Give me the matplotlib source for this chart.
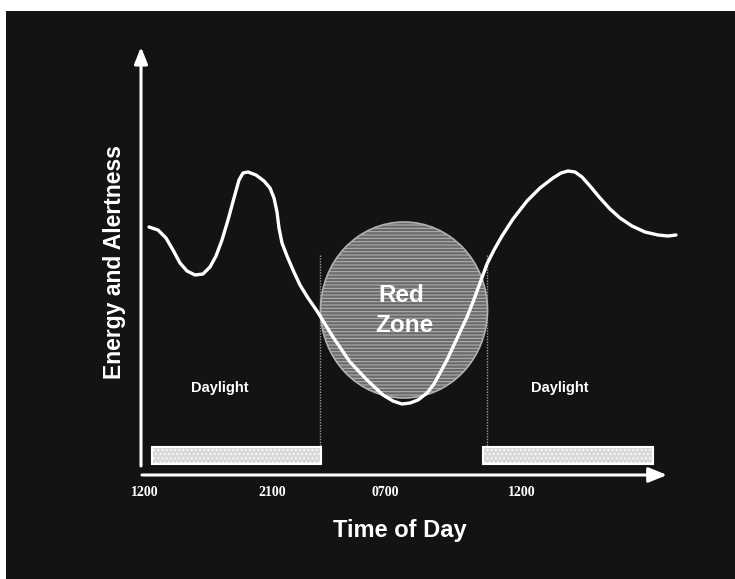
import matplotlib.pyplot as plt
from matplotlib.patches import Ellipse, Rectangle

# all positions are in picture pixels (x to the right, y downwards)
curve_x = [149, 158, 166, 173, 180, 187, 195, 203, 210, 216, 222, 228, 234, 239,
           243, 248, 256, 264, 270, 274, 277, 279, 282, 287, 293, 300, 308, 317,
           333, 350, 367, 383, 393, 402, 410, 418, 427, 434, 440, 447, 453, 460,
           467, 473, 480, 487, 494, 502, 513, 527, 540, 553, 561, 568, 575, 582,
           590, 600, 610, 620, 632, 645, 658, 668, 676]
curve_y = [227, 230, 238, 250, 263, 271, 275, 274, 267, 256, 240, 220, 198, 180,
           173, 172, 175, 181, 188, 198, 212, 228, 243, 256, 270, 285, 298, 311,
           337, 362, 380, 395, 401, 404, 403, 400, 393, 384, 373, 360, 347, 332,
           317, 302, 283, 264, 250, 236, 219, 201, 188, 178, 173, 171, 172, 177,
           186, 198, 209, 218, 226, 232, 235, 236, 235]

tick_x = [145, 272, 385, 522]
tick_labels = ["1200", "2100", "0700", "1200"]

daylight_x0 = [152, 483]
daylight_x1 = [321, 653]
daylight_label_x = [220, 560]

zone_center = (404, 310)
zone_size = (167, 176)
zone_edges_x = [320, 487]

BG = "#131313"
W, H = 735, 579

plt.rcParams["hatch.color"] = "#909090"
plt.rcParams["hatch.linewidth"] = 0.8

fig = plt.figure(figsize=(W / 100, H / 100), dpi=100, facecolor="white")
ax = fig.add_axes([6 / W, 0, (W - 6) / W, (H - 11) / H])
ax.set_facecolor(BG)
ax.set_xlim(6, W)
ax.set_ylim(H, 11)
ax.set_axis_off()
ax.add_patch(Rectangle((6, 11), W - 6, H - 11, facecolor=BG, edgecolor="none", zorder=0))

# thin lines marking the dark period
for x in zone_edges_x:
    ax.plot([x, x], [255, 447], color="#9a9a9a", lw=1.0, ls=(0, (1, 1)), zorder=1)

# red zone disc
ax.add_patch(Ellipse(zone_center, zone_size[0], zone_size[1], facecolor="#6a6a6a",
                     edgecolor="#b0b0b0", lw=1.2, hatch="-----", zorder=2))

# daylight bars
for x0, x1 in zip(daylight_x0, daylight_x1):
    ax.add_patch(Rectangle((x0, 447), x1 - x0, 17, facecolor="#d8d8d8",
                           edgecolor="white", lw=1.5, hatch="....", zorder=3))

# axes arrows
ax.annotate("", xy=(141, 47), xytext=(141, 466),
            arrowprops=dict(arrowstyle="-|>,head_length=1.0,head_width=0.4",
                            color="white", lw=2.2, shrinkA=0, shrinkB=0), zorder=4)
ax.annotate("", xy=(667, 475), xytext=(142, 475),
            arrowprops=dict(arrowstyle="-|>,head_length=1.1,head_width=0.45",
                            color="white", lw=2.2, shrinkA=0, shrinkB=0), zorder=4)

ax.plot(curve_x, curve_y, color="white", lw=2.4, solid_joinstyle="round",
        solid_capstyle="round", zorder=5)

sans = "Liberation Sans"
ax.text(401, 295, "Red", color="white", fontsize=17.5, fontweight="bold",
        family=sans, ha="center", va="center", zorder=6)
ax.text(404, 326, "Zone", color="white", fontsize=17.5, fontweight="bold",
        family=sans, ha="center", va="center", zorder=6)
for x in daylight_label_x:
    ax.text(x, 388, "Daylight", color="white", fontsize=10.5, fontweight="bold",
            family=sans, ha="center", va="center", zorder=6)

for x, lab in zip(tick_x, tick_labels):
    ax.text(x, 493, lab, color="white", fontsize=10, fontweight="bold",
            family="Liberation Serif", ha="center", va="center")

ax.text(115, 262, "Energy and Alertness", color="white", fontsize=16.5,
        fontweight="bold", family=sans, rotation=90, ha="center", va="center")
ax.text(400, 530, "Time of Day", color="white", fontsize=17, fontweight="bold",
        family=sans, ha="center", va="center")

fig.savefig("out.png", dpi=100, facecolor="white")
